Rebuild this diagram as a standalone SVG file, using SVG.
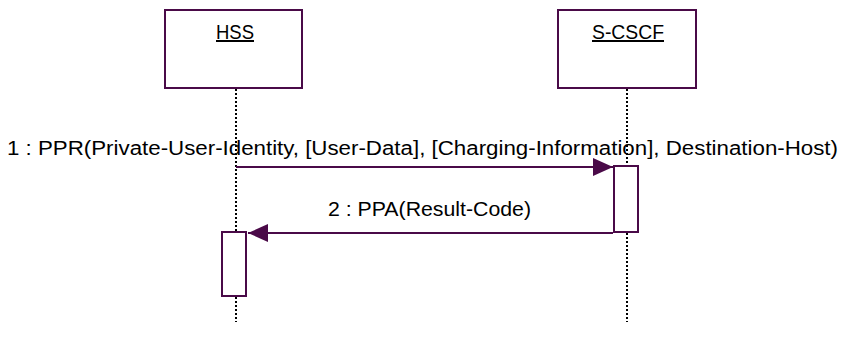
<svg xmlns="http://www.w3.org/2000/svg" width="843" height="346" viewBox="0 0 843 346">
<style>
.box{fill:#fff;stroke:#4a0a48;stroke-width:2}
.act{fill:#fff;stroke:#4a0a48;stroke-width:2}
.life{stroke:#000;stroke-width:2;stroke-dasharray:2,2;fill:none}
.msg{stroke:#4a0a48;stroke-width:2;fill:none}
.t{font-family:Tahoma,"Liberation Sans",Arial,sans-serif;font-size:20px;fill:#000}
.u{text-decoration:underline}
</style>
<defs>
<marker id="ah" markerWidth="20" markerHeight="18" refX="20" refY="9" orient="auto" markerUnits="userSpaceOnUse">
<path d="M0,0 L20,9 L0,18 z" fill="#4a0a48"/>
</marker>
</defs>
<g id="lifelines">
<line class="life" x1="236" y1="89" x2="236" y2="322"/>
<line class="life" x1="627" y1="89" x2="627" y2="322"/>
</g>
<g id="HSS">
<rect class="box" x="165" y="10" width="137" height="78"/>
<text class="t u" x="235" y="39" text-anchor="middle" textLength="38" lengthAdjust="spacingAndGlyphs">HSS</text>
</g>
<g id="S-CSCF">
<rect class="box" x="558" y="10" width="138" height="78"/>
<text class="t u" x="628" y="39" text-anchor="middle" textLength="72" lengthAdjust="spacingAndGlyphs">S-CSCF</text>
</g>
<g id="activations">
<rect class="act" x="614" y="166" width="24" height="66"/>
<rect class="act" x="222" y="232" width="24" height="64"/>
</g>
<g id="connectors">
<line class="msg" x1="236" y1="167" x2="613" y2="167" marker-end="url(#ah)"/>
<line class="msg" x1="613" y1="233" x2="248" y2="233" marker-end="url(#ah)"/>
</g>
<g id="labels">
<text class="t" x="7" y="154.5" textLength="831" lengthAdjust="spacingAndGlyphs">1 : PPR(Private-User-Identity, [User-Data], [Charging-Information], Destination-Host)</text>
<text class="t" x="328" y="215.5" textLength="203" lengthAdjust="spacingAndGlyphs">2 : PPA(Result-Code)</text>
</g>
</svg>
